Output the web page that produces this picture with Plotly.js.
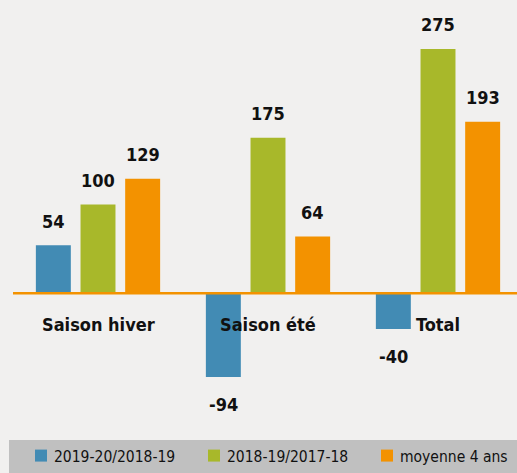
<!DOCTYPE html>
<html>
<head>
<meta charset="utf-8">
<script src="https://cdn.plot.ly/plotly-3.0.1.min.js"></script>
<style>
html,body{margin:0;padding:0;background:#f1f0ef;}
#chart{width:517px;height:473px;}
#chart .legend text.legendtext{transform:translateX(-7px);}
</style>
</head>
<body>
<div id="chart"></div>
<script>
var categories = ["Saison hiver", "Saison été", "Total"];
var seriesNames = ["2019-20/2018-19", "2018-19/2017-18", "moyenne 4 ans"];
var serieA = [54, -94, -40];
var serieB = [100, 175, 275];
var serieC = [129, 64, 193];
var colors = ["#428bb4", "#a8b82a", "#f39200"];

var FONT = '"DejaVu Sans Condensed", "Liberation Sans Narrow", Arial, sans-serif';
var W = 517, H = 473, ML = 0, MR = 0, MT = 0, MB = 53;
var plotW = W - ML - MR, plotH = H - MT - MB;
var CAT_PX = 170, FIRST_CENTER_PX = 98;

var allSeries = [serieA, serieB, serieC];
var traces = allSeries.map(function (vals, i) {
  return {
    type: 'bar',
    name: seriesNames[i],
    x: categories,
    y: vals,
    marker: {color: colors[i], line: {width: 0}},
    hoverinfo: 'none'
  };
});

var annotations = [];
var slot = (1 - 0.212) / 3;
allSeries.forEach(function (vals, i) {
  vals.forEach(function (v, j) {
    annotations.push({
      xref: 'x', yref: 'y',
      x: j + (i - 1) * slot,
      y: v,
      text: String(v),
      showarrow: false,
      xanchor: 'center', yanchor: 'middle',
      yshift: v >= 0 ? 24 : -28,
      font: {family: FONT, size: 18, color: '#111111', weight: 'bold'}
    });
  });
});
categories.forEach(function (c, j) {
  annotations.push({
    xref: 'x', yref: 'y',
    x: j, y: 0,
    text: c,
    showarrow: false,
    xanchor: 'center', yanchor: 'middle',
    yshift: -31,
    font: {family: FONT, size: 18, color: '#111111', weight: 'bold'}
  });
});

function px2paperX(px) { return (px - ML) / plotW; }
function px2paperY(py) { return (H - MB - py) / plotH; }

var xStart = -FIRST_CENTER_PX / CAT_PX;

var layout = {
  width: W, height: H,
  margin: {l: ML, r: MR, t: MT, b: MB, pad: 0, autoexpand: false},
  paper_bgcolor: '#f1f0ef',
  plot_bgcolor: '#f1f0ef',
  barmode: 'group',
  bargap: 0.212,
  bargroupgap: 0.217,
  showlegend: true,
  xaxis: {
    range: [xStart, xStart + plotW / CAT_PX],
    showticklabels: false, showgrid: false, zeroline: false, showline: false,
    ticks: '', fixedrange: true
  },
  yaxis: {
    range: [-142.5, 330],
    showticklabels: false, showgrid: false,
    zeroline: false,
    showline: false, ticks: '', fixedrange: true
  },
  shapes: [{
    type: 'rect', xref: 'paper', yref: 'paper',
    x0: px2paperX(9), x1: px2paperX(520),
    y0: px2paperY(440), y1: px2paperY(476),
    fillcolor: '#c0c0c0', line: {width: 0}, layer: 'below'
  }, {
    type: 'line', xref: 'paper', yref: 'y',
    x0: px2paperX(13), x1: 1, y0: 0, y1: 0,
    line: {color: '#f39200', width: 2.5}, layer: 'above'
  }],
  legend: {
    orientation: 'h',
    x: px2paperX(21), xanchor: 'left',
    y: px2paperY(456), yanchor: 'middle',
    bgcolor: 'rgba(0,0,0,0)',
    font: {family: FONT, size: 15.5, color: '#111111'},
    entrywidth: 128, entrywidthmode: 'pixels',
    itemclick: false, itemdoubleclick: false,
    traceorder: 'normal'
  },
  annotations: annotations
};

Plotly.newPlot('chart', traces, layout, {displayModeBar: false, staticPlot: true});
</script>
</body>
</html>
